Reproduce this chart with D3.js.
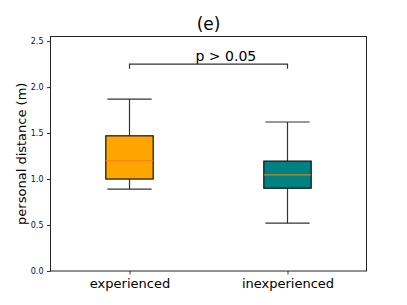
<!DOCTYPE html>
<html>
<head>
<meta charset="utf-8">
<script src="https://cdn.jsdelivr.net/npm/d3@7"></script>
<style>
  body { margin: 0; background: #fff; }
  text { font-family: "DejaVu Sans", sans-serif; }
</style>
</head>
<body>
<script>
const width = 407,
    height = 305;

// data
const groups = ["experienced", "inexperienced"];
const colors = ["#ffa500", "#008080"];
const whiskerLow = [0.89, 0.52];
const q1 = [1.0, 0.90];
const median = [1.2, 1.045];
const q3 = [1.47, 1.195];
const whiskerHigh = [1.87, 1.62];
const yTicks = [0.0, 0.5, 1.0, 1.5, 2.0, 2.5];
const bracket = { from: 1, to: 2, low: 2.2, high: 2.25, labelAt: 1.61, label: "p > 0.05" };

const margin = { top: 36.5, right: 40.5, bottom: 34, left: 50.5 };
const iw = width - margin.left - margin.right,
    ih = height - margin.top - margin.bottom;

const svg = d3.select("body").append("svg")
    .attr("width", width)
    .attr("height", height);

const g = svg.append("g").attr("transform", `translate(${margin.left},${margin.top})`);

const x = d3.scaleLinear().domain([0.5, 2.5]).range([0, iw]);
const y = d3.scaleLinear().domain([0, 2.55]).range([ih, 0]);

const boxW = x(1.3) - x(1);
const capW = x(1.14) - x(1);

const data = groups.map((name, i) => ({
  name, pos: i + 1, color: colors[i],
  lo: whiskerLow[i], q1: q1[i], med: median[i], q3: q3[i], hi: whiskerHigh[i]
}));

// y axis
const yAxis = g.append("g")
    .call(d3.axisLeft(y).tickValues(yTicks).tickFormat(d3.format(".1f")).tickSize(3.5).tickPadding(3.5));
yAxis.select(".domain").remove();
yAxis.selectAll(".tick line").attr("stroke", "#000").attr("stroke-width", 0.8);
yAxis.selectAll(".tick text").attr("font-size", 8).attr("fill", "#111");

// x axis ticks
const xAxis = g.append("g")
    .attr("transform", `translate(0,${ih})`)
    .call(d3.axisBottom(x).tickValues([1, 2]).tickFormat(d => groups[d - 1]).tickSize(3.5).tickPadding(4));
xAxis.select(".domain").remove();
xAxis.selectAll(".tick line").attr("stroke", "#000").attr("stroke-width", 0.8);
xAxis.selectAll(".tick text").attr("font-size", 13).attr("fill", "#000");

// frame
g.append("rect")
    .attr("width", iw).attr("height", ih)
    .attr("fill", "none").attr("stroke", "#222").attr("stroke-width", 1);

const box = g.selectAll(".box").data(data).enter().append("g").attr("class", "box");

box.append("line")
    .attr("x1", d => x(d.pos)).attr("x2", d => x(d.pos))
    .attr("y1", d => y(d.hi)).attr("y2", d => y(d.q3))
    .attr("stroke", "#333").attr("stroke-width", 1.2);
box.append("line")
    .attr("x1", d => x(d.pos)).attr("x2", d => x(d.pos))
    .attr("y1", d => y(d.q1)).attr("y2", d => y(d.lo))
    .attr("stroke", "#333").attr("stroke-width", 1.2);
box.append("line")
    .attr("x1", d => x(d.pos) - capW).attr("x2", d => x(d.pos) + capW)
    .attr("y1", d => y(d.hi)).attr("y2", d => y(d.hi))
    .attr("stroke", "#333").attr("stroke-width", 1.2);
box.append("line")
    .attr("x1", d => x(d.pos) - capW).attr("x2", d => x(d.pos) + capW)
    .attr("y1", d => y(d.lo)).attr("y2", d => y(d.lo))
    .attr("stroke", "#333").attr("stroke-width", 1.2);

box.append("rect")
    .attr("x", d => x(d.pos) - boxW / 2)
    .attr("y", d => y(d.q3))
    .attr("width", boxW)
    .attr("height", d => y(d.q1) - y(d.q3))
    .attr("fill", d => d.color)
    .attr("stroke", "#111").attr("stroke-width", 1.2);

box.append("line")
    .attr("x1", d => x(d.pos) - boxW / 2).attr("x2", d => x(d.pos) + boxW / 2)
    .attr("y1", d => y(d.med)).attr("y2", d => y(d.med))
    .attr("stroke", "#ff7f0e").attr("stroke-width", 1);

// significance bracket
g.append("path")
    .attr("d", d3.line()([
      [x(bracket.from), y(bracket.low)],
      [x(bracket.from), y(bracket.high)],
      [x(bracket.to), y(bracket.high)],
      [x(bracket.to), y(bracket.low)]
    ]))
    .attr("fill", "none").attr("stroke", "#333").attr("stroke-width", 1.2);

g.append("text")
    .attr("x", x(bracket.labelAt))
    .attr("y", y(bracket.high) - 3.5)
    .attr("text-anchor", "middle")
    .attr("font-size", 14)
    .text(bracket.label);

// title + y label
svg.append("text")
    .attr("x", margin.left + iw / 2)
    .attr("y", 29.5)
    .attr("text-anchor", "middle")
    .attr("font-size", 17)
    .text("(e)");

svg.append("text")
    .attr("transform", `translate(25.5,${margin.top + ih / 2}) rotate(-90)`)
    .attr("text-anchor", "middle")
    .attr("font-size", 13)
    .text("personal distance (m)");
</script>
</body>
</html>
